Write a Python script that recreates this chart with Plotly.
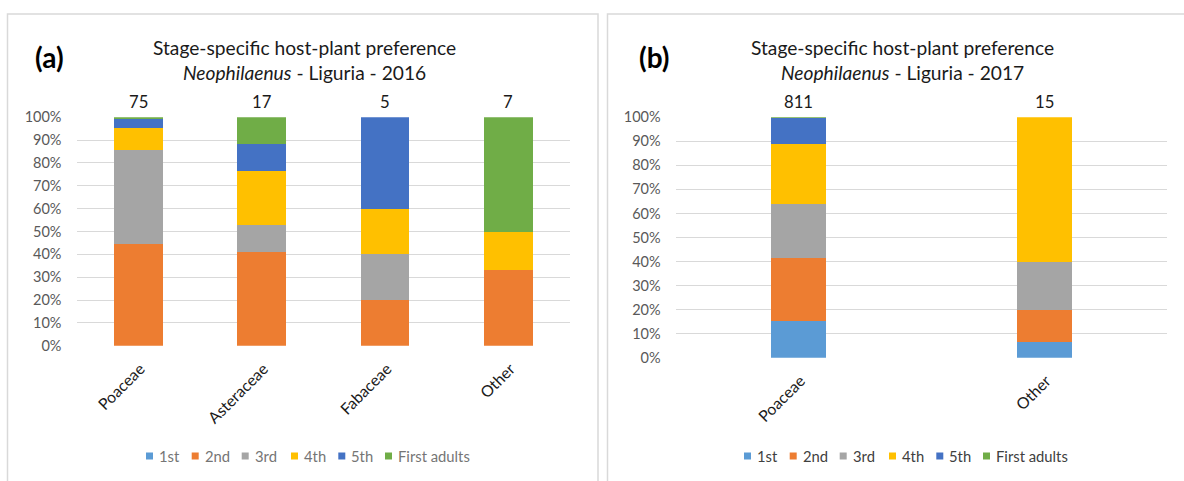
import plotly.graph_objects as go

# ---- data -------------------------------------------------------------
stages = ["1st", "2nd", "3rd", "4th", "5th", "First adults"]
stage_colors = ["#5B9BD5", "#ED7D31", "#A5A5A5", "#FFC000", "#4472C4", "#70AD47"]

# 2016: share (%) of each stage found on each host-plant family
families_2016 = ["Poaceae", "Asteraceae", "Fabaceae", "Other"]
totals_2016 = [75, 17, 5, 7]
first_2016 = [0.0, 0.0, 0.0, 0.0]
second_2016 = [44.7, 41.2, 20.0, 33.3]
third_2016 = [40.8, 11.7, 20.0, 0.0]
fourth_2016 = [9.9, 23.6, 20.0, 16.7]
fifth_2016 = [4.0, 11.7, 40.0, 0.0]
adults_2016 = [0.6, 11.8, 0.0, 50.0]

# 2017
families_2017 = ["Poaceae", "Other"]
totals_2017 = [811, 15]
first_2017 = [15.4, 6.7]
second_2017 = [25.9, 13.3]
third_2017 = [22.8, 20.0]
fourth_2017 = [24.8, 60.0]
fifth_2017 = [10.8, 0.0]
adults_2017 = [0.3, 0.0]

series_2016 = [first_2016, second_2016, third_2016, fourth_2016, fifth_2016, adults_2016]
series_2017 = [first_2017, second_2017, third_2017, fourth_2017, fifth_2017, adults_2017]

# ---- page geometry helpers -------------------------------------------
W, H = 1184, 481
FONT = "Lato"


def px(x):
    return x / W


def py(y):
    return 1 - y / H


fig = go.Figure()

for name, color, vals in zip(stages, stage_colors, series_2016):
    fig.add_trace(go.Bar(x=families_2016, y=vals, name=name, marker_color=color,
                         marker_line_width=0, width=0.394, xaxis="x", yaxis="y",
                         showlegend=False))
for name, color, vals in zip(stages, stage_colors, series_2017):
    fig.add_trace(go.Bar(x=families_2017, y=vals, name=name, marker_color=color,
                         marker_line_width=0, width=0.222, xaxis="x2", yaxis="y2",
                         showlegend=False))

yaxis_style = dict(range=[0, 100], dtick=10, ticksuffix="%", showgrid=True,
                   gridcolor="#d9d9d9", gridwidth=1, zeroline=False, showline=False,
                   ticks="", ticklabelstandoff=14, automargin=False,
                   tickfont=dict(family=FONT, size=14.5, color="#595959"))
xaxis_style = dict(type="category", showgrid=False, zeroline=False, showline=False,
                   ticks="", tickangle=-45, automargin=False,
                   ticklabelshift=2, ticklabelstandoff=10,
                   tickfont=dict(family=FONT, size=15.8, color="#1a1a1a"))

annotations = []
shapes = []

# panel frames
shapes.append(dict(type="rect", xref="paper", yref="paper",
                   x0=px(7.5), x1=px(598), y0=py(14), y1=-0.1,
                   line=dict(color="#d9d9d9", width=1.5)))
shapes.append(dict(type="rect", xref="paper", yref="paper",
                   x0=px(607.5), x1=1.1, y0=py(14), y1=-0.1,
                   line=dict(color="#d9d9d9", width=1.5)))

panels = [
    dict(tag="(a)", tag_x=49, year="2016", title_x=304, xa="x", ya="y",
         fams=families_2016, totals=totals_2016, legend_x=146, legend_color="#757575"),
    dict(tag="(b)", tag_x=654, year="2017", title_x=902, xa="x2", ya="y2",
         fams=families_2017, totals=totals_2017, legend_x=744, legend_color="#404040"),
]

legend_offsets = [0, 45.7, 95.7, 145, 192.3, 239]

for p in panels:
    annotations.append(dict(text="<b>%s</b>" % p["tag"], x=px(p["tag_x"]), y=py(57),
                            xref="paper", yref="paper", showarrow=False,
                            xanchor="center", yanchor="middle",
                            font=dict(family=FONT, size=28, color="#000000")))
    annotations.append(dict(text="Stage-specific host-plant preference",
                            x=px(p["title_x"]), y=py(47), xref="paper", yref="paper",
                            showarrow=False, xanchor="center", yanchor="middle",
                            font=dict(family=FONT, size=19.2, color="#1a1a1a")))
    annotations.append(dict(text="<i>Neophilaenus</i> - Liguria - %s" % p["year"],
                            x=px(p["title_x"]), y=py(73), xref="paper", yref="paper",
                            showarrow=False, xanchor="center", yanchor="middle",
                            font=dict(family=FONT, size=19.2, color="#1a1a1a")))
    for fam, n in zip(p["fams"], p["totals"]):
        annotations.append(dict(text=str(n), x=fam, y=100, xref=p["xa"], yref=p["ya"],
                                showarrow=False, xanchor="center", yanchor="bottom",
                                yshift=3, font=dict(family=FONT, size=16.7, color="#1a1a1a")))
    # stage key
    for off, name, color in zip(legend_offsets, stages, stage_colors):
        x0 = p["legend_x"] + off
        shapes.append(dict(type="rect", xref="paper", yref="paper",
                           x0=px(x0), x1=px(x0 + 7), y0=py(459.5), y1=py(452.5),
                           fillcolor=color, line=dict(width=0)))
        annotations.append(dict(text=name, x=px(x0 + 11), y=py(456), xref="paper",
                                yref="paper", showarrow=False, xanchor="left",
                                yanchor="middle",
                                font=dict(family=FONT, size=14.8, color=p["legend_color"])))

fig.update_layout(
    width=W, height=H, margin=dict(l=0, r=0, t=0, b=0, autoexpand=False),
    paper_bgcolor="white", plot_bgcolor="white", barmode="stack",
    font=dict(family=FONT),
    xaxis=dict(domain=[px(76.5), px(570.2)], anchor="y", **xaxis_style),
    yaxis=dict(domain=[py(345.7), py(117.3)], anchor="x", **yaxis_style),
    xaxis2=dict(domain=[px(675.6), px(1167.2)], anchor="y2", **xaxis_style),
    yaxis2=dict(domain=[py(357.7), py(117.3)], anchor="x2", **yaxis_style),
    shapes=shapes, annotations=annotations,
)

fig.write_html("out.html")
